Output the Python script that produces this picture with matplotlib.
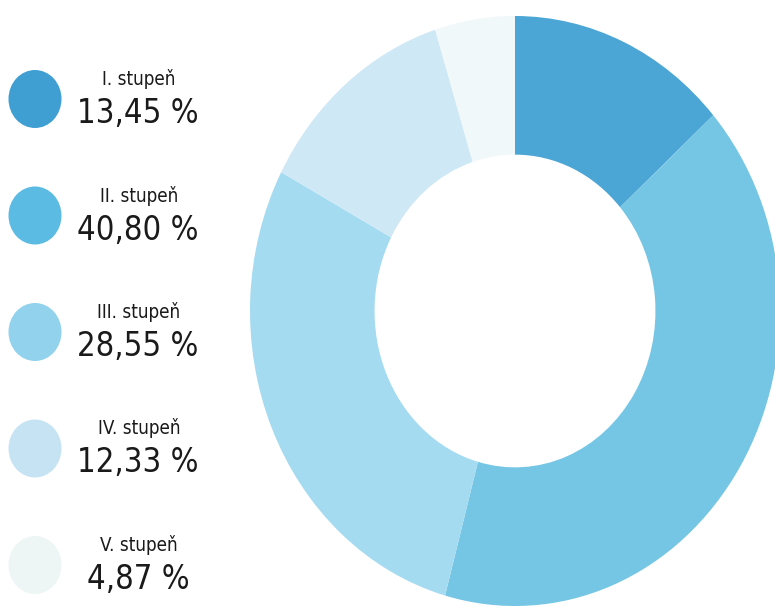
import matplotlib
matplotlib.use("Agg")
import matplotlib.pyplot as plt
from matplotlib.patches import Ellipse

# data
labels = ["I. stupeň", "II. stupeň", "III. stupeň", "IV. stupeň", "V. stupeň"]
shares = [13.45, 40.80, 28.55, 12.33, 4.87]
pct_text = ["13,45 %", "40,80 %", "28,55 %", "12,33 %", "4,87 %"]
ring_colors = ["#4ba5d5", "#74c6e4", "#a4dbf0", "#cfe8f6", "#f1f8f9"]
dot_colors = ["#3f9fd2", "#5cbbe2", "#92d2ec", "#c6e3f3", "#eef5f5"]

W, H = 775, 615
fig = plt.figure(figsize=(W / 100, H / 100), dpi=100)
fig.patch.set_facecolor("white")

# donut, slightly taller than wide like the scan
cx, cy, rx, ry = 515, 311, 265, 295
ax = fig.add_axes([(cx - rx) / W, (H - cy - ry) / H, 2 * rx / W, 2 * ry / H])
ax.pie(shares, colors=ring_colors, startangle=90, counterclock=False,
       radius=1.0, wedgeprops=dict(width=0.47, linewidth=0))
ax.set_aspect("auto")
ax.set_xlim(-1, 1)
ax.set_ylim(-1, 1)
ax.axis("off")

# legend drawn in pixel coords
lg = fig.add_axes([0, 0, 1, 1], zorder=3)
lg.set_xlim(0, W)
lg.set_ylim(H, 0)
lg.axis("off")

fam = ["DejaVu Sans"]
for i, (lab, pct, col) in enumerate(zip(labels, pct_text, dot_colors)):
    y = 99 + i * 116.5
    lg.add_patch(Ellipse((35, y), 53, 58, facecolor=col, edgecolor="none"))
    lg.text(139, y - 14, lab, ha="center", va="baseline", fontsize=13.5,
            color="#1a1a1a", family=fam, fontstretch="condensed")
    lg.text(138, y + 24, pct, ha="center", va="baseline", fontsize=23.5,
            color="#1a1a1a", family=fam, fontstretch="condensed")

fig.savefig("out.png", dpi=100, facecolor="white")
